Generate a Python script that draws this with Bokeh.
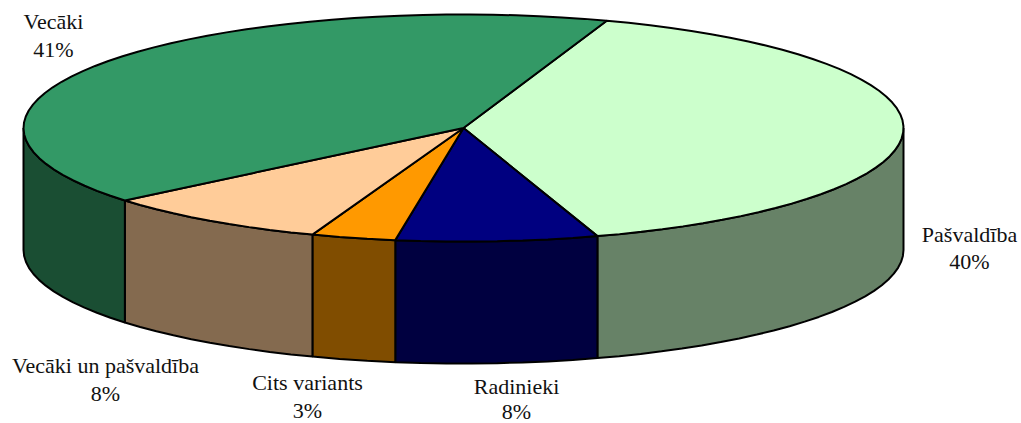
import math
from bokeh.plotting import figure
from bokeh.models import Range1d
from bokeh.core.properties import value
from bokeh.embed import file_html
from bokeh.resources import INLINE

# Data (shares; labels as printed), clockwise from the start angle
categories = ["Pašvaldība", "Radinieki", "Cits variants", "Vecāki un pašvaldība", "Vecāki"]
values = [39.8, 7.4, 3.1, 8.4, 41.3]
percent_labels = ["40%", "8%", "3%", "8%", "41%"]
top_colors = ["#CCFFCC", "#000080", "#FF9900", "#FFCC99", "#339966"]
side_colors = ["#678267", "#000040", "#804D00", "#846A4F", "#1A4E33"]

# Layout of the pie, in page pixels
START_DEG = 19.0
CX, CY, RX, RY, DEPTH = 463.0, 127.5, 440.0, 113.5, 122.0
label_x = [969, 516, 307, 105, 53]
label_name_y = [234, 386, 382, 365, 21]
label_pct_y = [261, 411, 410, 393, 49]
W, H = 1021, 423


def pt(deg, dy=0.0):
    a = math.radians(deg)
    return CX + RX * math.sin(a), CY - RY * math.cos(a) + dy


def arc(a1, a2, dy=0.0, step=3.0):
    n = max(2, int(abs(a2 - a1) / step) + 1)
    pts = [pt(a1 + (a2 - a1) * i / (n - 1), dy) for i in range(n)]
    return [q[0] for q in pts], [q[1] for q in pts]


p = figure(width=W, height=H, x_range=Range1d(0, W), y_range=Range1d(H, 0),
           output_backend="svg", toolbar_location=None, min_border=0,
           outline_line_color=None, background_fill_color="white",
           border_fill_color="white")
p.axis.visible = False
p.grid.visible = False

total = sum(values)
bounds = [START_DEG]
for v in values:
    bounds.append(bounds[-1] + v / total * 360.0)

# walls first
for i in range(len(values)):
    for lo, hi in [(90, 270), (450, 630)]:
        a1, a2 = max(bounds[i], lo), min(bounds[i + 1], hi)
        if a2 <= a1:
            continue
        tx, ty = arc(a1, a2)
        bx, by = arc(a2, a1, DEPTH)
        p.patch(tx + bx, ty + by, fill_color=side_colors[i], line_color="black", line_width=2)

# top slices
for i in range(len(values)):
    ax, ay = arc(bounds[i], bounds[i + 1])
    p.patch([CX] + ax, [CY] + ay, fill_color=top_colors[i], line_color="black", line_width=2)

for i, name in enumerate(categories):
    for txt, y in ((name, label_name_y[i]), (percent_labels[i], label_pct_y[i])):
        p.text([label_x[i]], [y], text=[txt], text_font=value("Liberation Serif"),
               text_font_size="22px", text_color="#111111", text_align="center",
               text_baseline="middle")

open("out.html", "w").write(file_html(p, INLINE))
